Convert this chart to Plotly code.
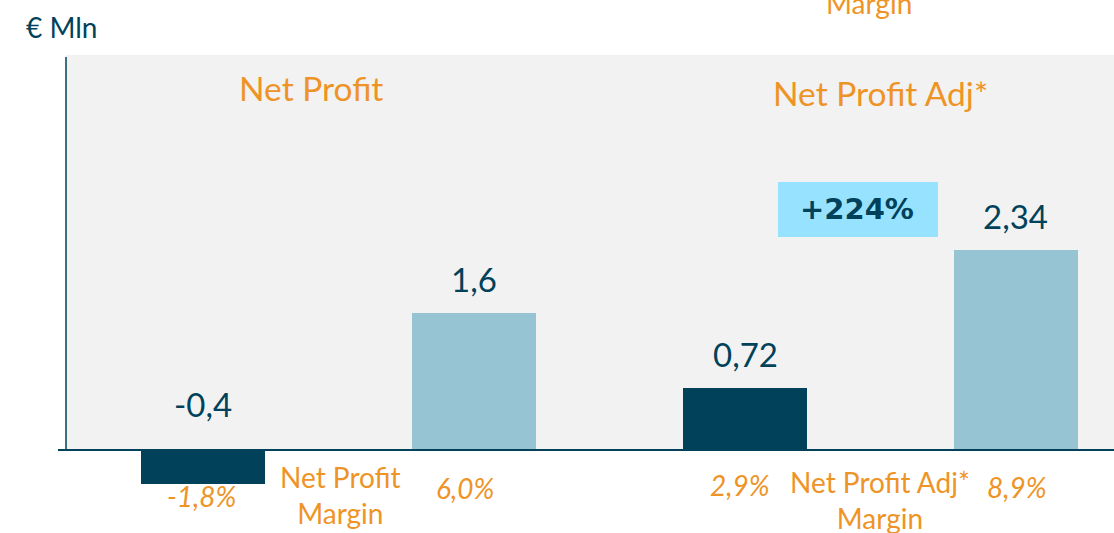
import plotly.graph_objects as go

# ---- data ----
categories = ["Net Profit (prior)", "Net Profit (current)", "Net Profit Adj* (prior)", "Net Profit Adj* (current)"]
values = [-0.4, 1.6, 0.72, 2.34]
value_labels = ["-0,4", "1,6", "0,72", "2,34"]
margin_labels = ["-1,8%", "6,0%", "2,9%", "8,9%"]
group_titles = ["Net Profit", "Net Profit Adj*"]
margin_titles = ["Net Profit<br>Margin", "Net Profit Adj*<br>Margin"]
growth_label = "+224%"
unit_label = "€ Mln"

NAVY = "#01425A"
LIGHT = "#97C4D3"
ORANGE = "#EE9427"
GRAY = "#F2F2F2"
FONT = "Lato"

W, H = 1114, 533
ML, MT = 66, 55
PW, PH = W - ML, H - MT
Y0PX = 450
SCALE = 85.6
ymax = (Y0PX - MT) / SCALE
ymin = -(H - Y0PX) / SCALE

def px_x(px):
    return (px - ML) / PW

def px_y(py):
    return (H - py) / PH

bar_colors = [NAVY, LIGHT, NAVY, LIGHT]

fig = go.Figure()
fig.add_trace(go.Bar(
    x=categories, y=values, marker=dict(color=bar_colors, line=dict(width=0)),
    width=0.458, hoverinfo="skip", showlegend=False,
))

shapes = [
    dict(type="rect", xref="paper", yref="y", x0=0, x1=1, y0=0, y1=ymax,
         fillcolor=GRAY, line=dict(width=0), layer="below"),
    dict(type="line", xref="paper", yref="y", x0=0, x1=0, y0=0, y1=(Y0PX - 57) / SCALE,
         line=dict(color=NAVY, width=1.5)),
    dict(type="line", xref="paper", yref="y", x0=px_x(58), x1=1, y0=0, y1=0,
         line=dict(color=NAVY, width=2), layer="above"),
    dict(type="rect", xref="paper", yref="paper", x0=px_x(778), x1=px_x(938),
         y0=px_y(237), y1=px_y(182), fillcolor="#97E3FF", line=dict(width=0)),
]

def ann(text, x, y, size, color, family=FONT, **kw):
    d = dict(text=text, x=x, y=y, showarrow=False, xanchor="center", yanchor="middle",
             font=dict(family=family, size=size, color=color))
    d.update(kw)
    return d

annotations = []
annotations.append(ann(unit_label, px_x(61), px_y(27), 28, NAVY, xref="paper", yref="paper"))
for t, (cx, cy) in zip(group_titles, [(311, 88), (880, 93)]):
    annotations.append(ann(t, px_x(cx), px_y(cy), 33.5, ORANGE, xref="paper", yref="paper"))
for i, (v, lab) in enumerate(zip(values, value_labels)):
    top = max(v, 0)
    annotations.append(ann(lab, categories[i], top, 33, NAVY, yref="y", yanchor="bottom",
                           yshift=12 if v > 0 else 24))
for i, (lab, cy, dx) in enumerate(zip(margin_labels, [496, 488, 485, 487], [-2, -9, -5, 1])):
    annotations.append(ann("<i>" + lab + "</i>", categories[i], px_y(cy), 28, ORANGE,
                           yref="paper", xshift=dx))
for t, (cx, cy) in zip(margin_titles, [(340, 495), (880, 500)]):
    annotations.append(ann(t, px_x(cx), px_y(cy), 28, ORANGE, xref="paper", yref="paper",
                           align="center"))
annotations.append(ann("Margin", px_x(869), px_y(3), 28, ORANGE, xref="paper", yref="paper"))
annotations.append(ann("<b>" + growth_label + "</b>", px_x(857), px_y(209), 29, NAVY,
                       family="DejaVu Sans", xref="paper", yref="paper"))

fig.update_layout(
    width=W, height=H,
    margin=dict(l=ML, r=0, t=MT, b=0),
    paper_bgcolor="white", plot_bgcolor="white",
    xaxis=dict(visible=False, range=[-0.507, 3.362], type="category"),
    yaxis=dict(visible=False, range=[ymin, ymax]),
    shapes=shapes, annotations=annotations,
    bargap=0,
)

fig.write_html("out.html", config={"displayModeBar": False},
               post_script="document.body.style.margin='0';document.body.style.overflow='hidden';")
